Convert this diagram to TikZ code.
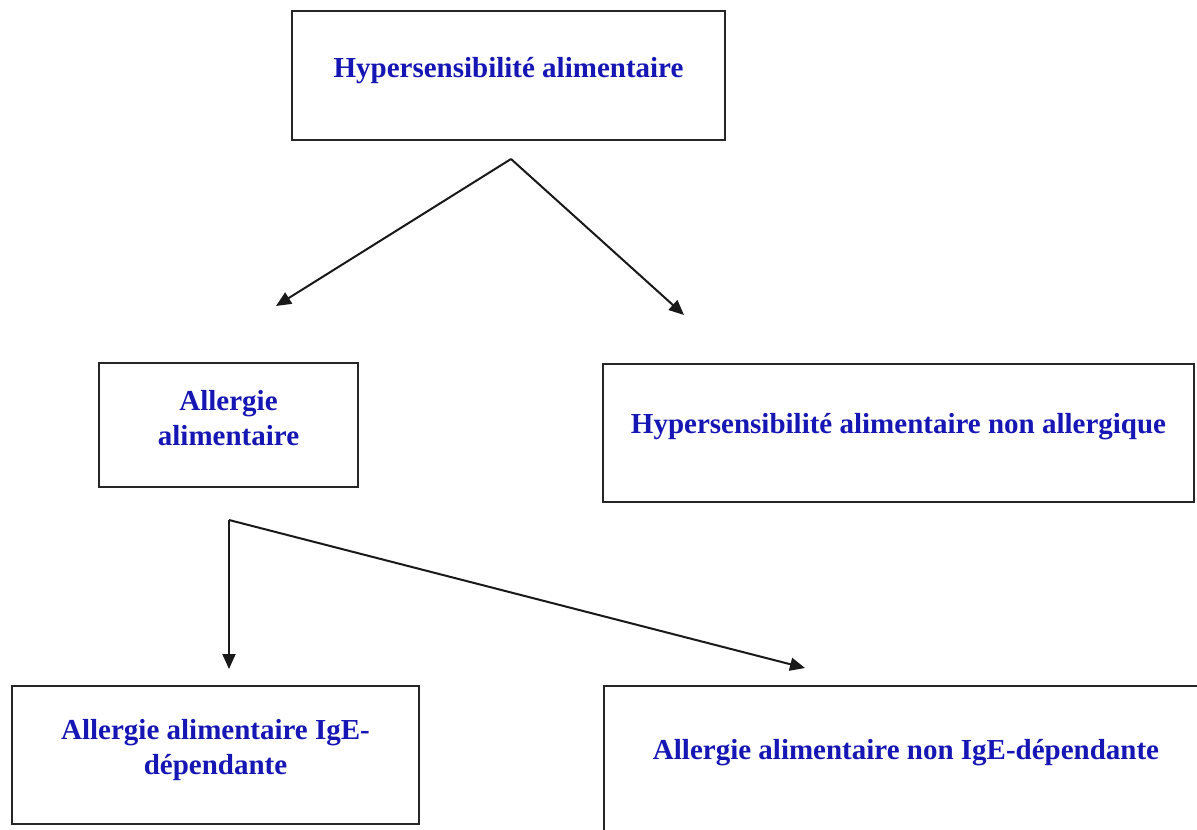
\documentclass[tikz,border=0pt]{standalone}
\usepackage{fontspec}
\setmainfont{Liberation Serif}
\usetikzlibrary{arrows.meta}
\definecolor{txtblue}{RGB}{22,22,180}
\tikzset{
  box/.style={draw=black!85, line width=1.3pt, fill=none, inner sep=0pt, rectangle},
  lbl/.style={text=txtblue, font=\bfseries\fontsize{14.5}{17.5}\selectfont, align=center, inner sep=0pt},
  conn/.style={draw=black!90, line width=1pt, -{Triangle[length=7.5pt,width=6.5pt]}}
}
\begin{document}
\begin{tikzpicture}[x=1pt,y=-1pt]
\useasboundingbox (0,0) rectangle (598.5,414.5);
\clip (0,0) rectangle (598.5,414.5);
% boxes
\node[box, minimum width=216.5pt, minimum height=64.5pt] (hs) at (254.25,37.75) {};
\node[lbl] (hst) at (254.25,35.5) {Hypersensibilité alimentaire};
\node[box, minimum width=129.5pt, minimum height=62pt] (aa) at (114.25,212.5) {};
\node[lbl] (aat) at (114.25,209.25) {Allergie\\alimentaire};
\node[box, minimum width=295.5pt, minimum height=69pt] (hna) at (449.25,216.5) {};
\node[lbl] (hnat) at (449.25,213.5) {Hypersensibilité alimentaire non allergique};
\node[box, minimum width=203.5pt, minimum height=69pt] (ige) at (107.75,377.5) {};
\node[lbl] (iget) at (107.75,375.25) {Allergie alimentaire IgE-\\dépendante};
\node[box, minimum width=303pt, minimum height=77pt] (nige) at (453.5,381.5) {};
\node[lbl] (niget) at (453,376.5) {Allergie alimentaire non IgE-dépendante};
% connector points
\coordinate (apex1) at (255.5,79.5);
\coordinate (tipL) at (138,153);
\coordinate (tipR) at (342,157.5);
\coordinate (apex2) at (114.5,260);
\coordinate (tipD) at (114.5,334.5);
\coordinate (tipE) at (402.5,334);
% connectors
\draw[conn] (apex1) -- (tipL);
\draw[conn] (apex1) -- (tipR);
\draw[conn] (apex2) -- (tipD);
\draw[conn] (apex2) -- (tipE);
\end{tikzpicture}
\end{document}
